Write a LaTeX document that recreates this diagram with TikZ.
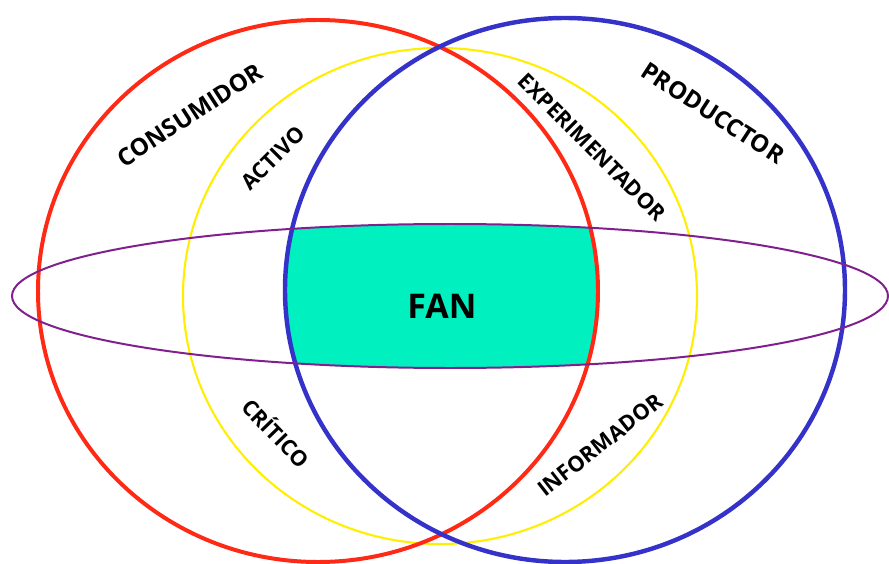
\documentclass[tikz,border=0pt]{standalone}
\usepackage{fontspec}
\setmainfont{Open Sans}
\definecolor{rojo}{RGB}{255,42,22}
\definecolor{azul}{RGB}{52,50,200}
\definecolor{amarillo}{RGB}{255,238,0}
\definecolor{morado}{RGB}{128,32,140}
\definecolor{turquesa}{RGB}{0,240,192}
\tikzset{
    rol/.style={font=\bfseries\fontsize{20.5pt}{20.5pt}\selectfont,inner sep=0pt},
    subrol/.style={font=\bfseries\fontsize{18.5pt}{18.5pt}\selectfont,inner sep=0pt},
    nucleo/.style={font=\bfseries\fontsize{29pt}{29pt}\selectfont,inner sep=0pt}
}
\begin{document}
\begin{tikzpicture}[x=0.03cm,y=-0.03cm]
    \useasboundingbox (0,0) rectangle (889,564);
    % Zona FAN: consumidor, productor y franja central.
    \begin{scope}
        \clip (318,291) ellipse [x radius=280,y radius=271];
        \clip (565,290) ellipse [x radius=280,y radius=272];
        \fill[turquesa] (450,296) ellipse [x radius=438,y radius=72];
    \end{scope}

    % Conjuntos.
    \draw[amarillo,line width=1.8pt] (440,296) ellipse [x radius=257,y radius=248];
    \draw[rojo,line width=3.4pt] (318,291) ellipse [x radius=280,y radius=271];
    \draw[azul,line width=3.8pt] (565,290) ellipse [x radius=280,y radius=272];
    \draw[morado,line width=1.7pt] (450,296) ellipse [x radius=438,y radius=72];

    % Etiquetas.
    \node[rol,rotate=33] (consumidor) at (190,115) {CONSUMIDOR};
    \node[rol,rotate=-33] (productor) at (713,113) {PRODUCCTOR};
    \node[subrol,rotate=45] (activo) at (273,158) {ACTIVO};
    \node[subrol,rotate=-45] (experimentador) at (592,147) {EXPERIMENTADOR};
    \node[subrol,rotate=-46] (critico) at (277,432) {CRÍTICO};
    \node[subrol,rotate=38] (informador) at (600,445) {INFORMADOR};
    \node[nucleo] (fan) at (442,306) {FAN};
\end{tikzpicture}
\end{document}
